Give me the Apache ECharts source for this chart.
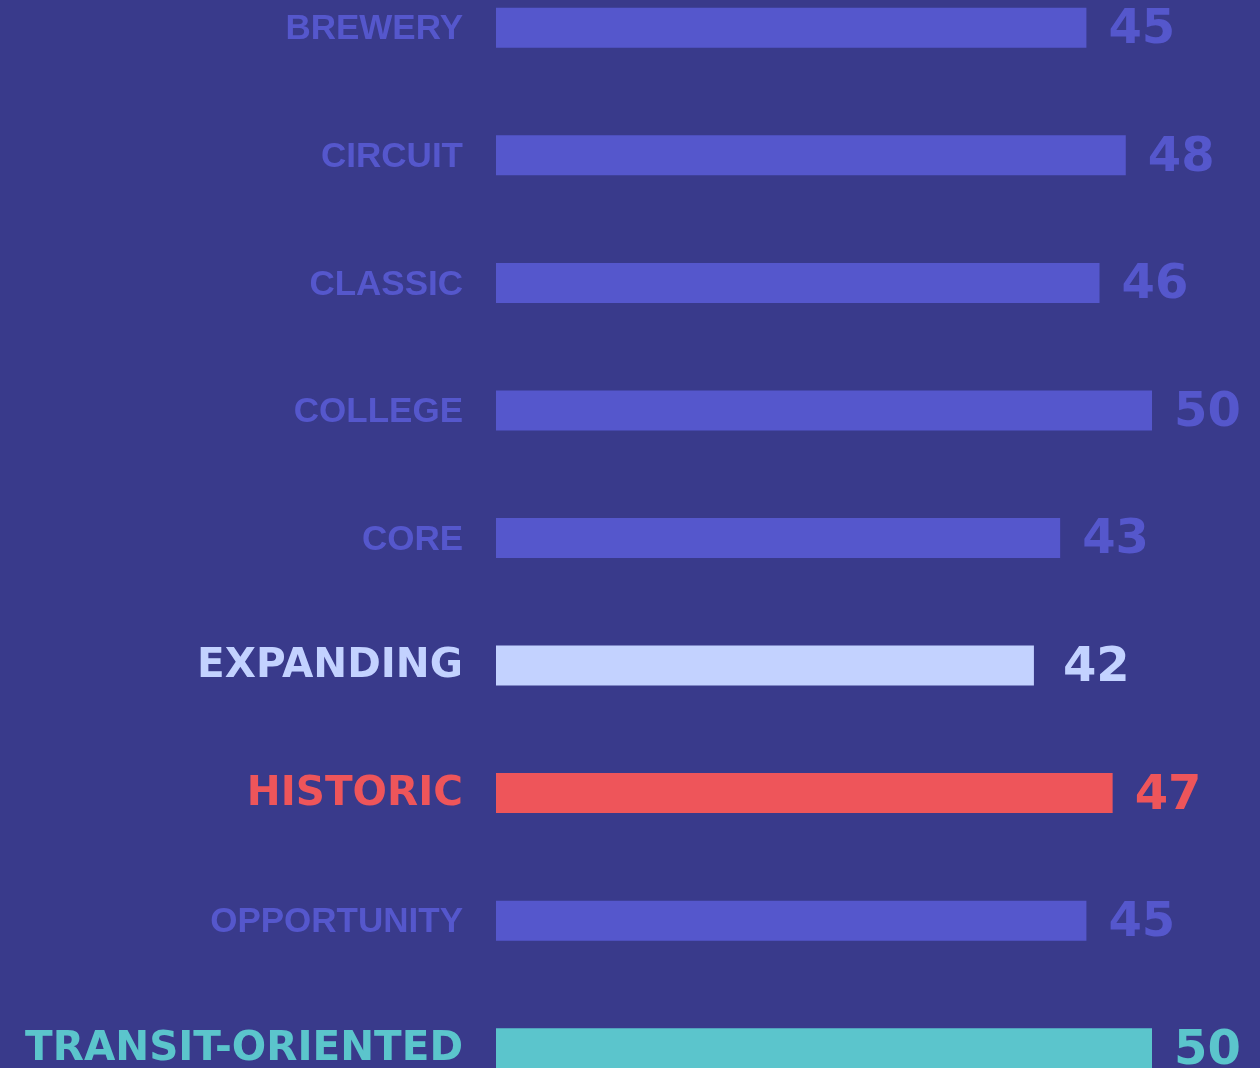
<!DOCTYPE html>
<html>
<head>
<meta charset="utf-8">
<style>
html,body{margin:0;padding:0;background:#393a8b;overflow:hidden;width:1260px;height:1068px;}
#chart{position:absolute;left:0;top:-35.75px;width:1260px;height:1147.5px;}
</style>
<script src="https://cdn.jsdelivr.net/npm/echarts@6/dist/echarts.min.js"></script>
</head>
<body>
<div id="chart"></div>
<script>
var categories = ["BREWERY","CIRCUIT","CLASSIC","COLLEGE","CORE","EXPANDING","HISTORIC","OPPORTUNITY","TRANSIT-ORIENTED"];
var barValues = [45, 48, 46, 50, 43, 41, 47, 45, 50];
var valueLabels = ["45","48","46","50","43","42","47","45","50"];
var highlight = {"EXPANDING":"exp","HISTORIC":"his","TRANSIT-ORIENTED":"tra"};
var colors = {base:"#5557cc", exp:"#c3d2ff", his:"#ee555a", tra:"#5bc5cc"};

var chart = echarts.init(document.getElementById('chart'));
var data = barValues.map(function(v,i){
  var k = highlight[categories[i]] || "base";
  var lab = {color:colors[k]};
  if (k === "exp") lab.distance = 29;
  return {value:v, itemStyle:{color:colors[k]}, label:lab};
});
chart.setOption({
  backgroundColor:"#393a8b",
  animation:false,
  grid:{left:496, width:656, top:0, bottom:0, containLabel:false},
  xAxis:{type:'value', min:0, max:50, show:false},
  yAxis:{
    type:'category', data:categories, inverse:true,
    axisLine:{show:false}, axisTick:{show:false}, splitLine:{show:false},
    axisLabel:{
      margin:33,
      formatter:function(v){ var k = highlight[v]; return k ? '{'+k+'|'+v+'}' : '{base|'+v+'}'; },
      rich:{
        base:{color:colors.base, fontFamily:'Liberation Sans', fontWeight:'bold', fontSize:35, padding:[4,0,0,0]},
        exp:{color:colors.exp, fontFamily:'DejaVu Sans', fontWeight:'bold', fontSize:40.5, padding:[2,0,0,0]},
        his:{color:colors.his, fontFamily:'DejaVu Sans', fontWeight:'bold', fontSize:40.5, padding:[2,0,0,0]},
        tra:{color:colors.tra, fontFamily:'DejaVu Sans', fontWeight:'bold', fontSize:40.5, padding:[2,0,0,0]}
      }
    }
  },
  series:[{
    type:'bar', data:data, barWidth:40,
    label:{
      show:true, position:'right', distance:22, offset:[0,3],
      fontFamily:'DejaVu Sans', fontWeight:'bold', fontSize:48,
      formatter:function(p){ return valueLabels[p.dataIndex]; }
    }
  }]
});
</script>
</body>
</html>
